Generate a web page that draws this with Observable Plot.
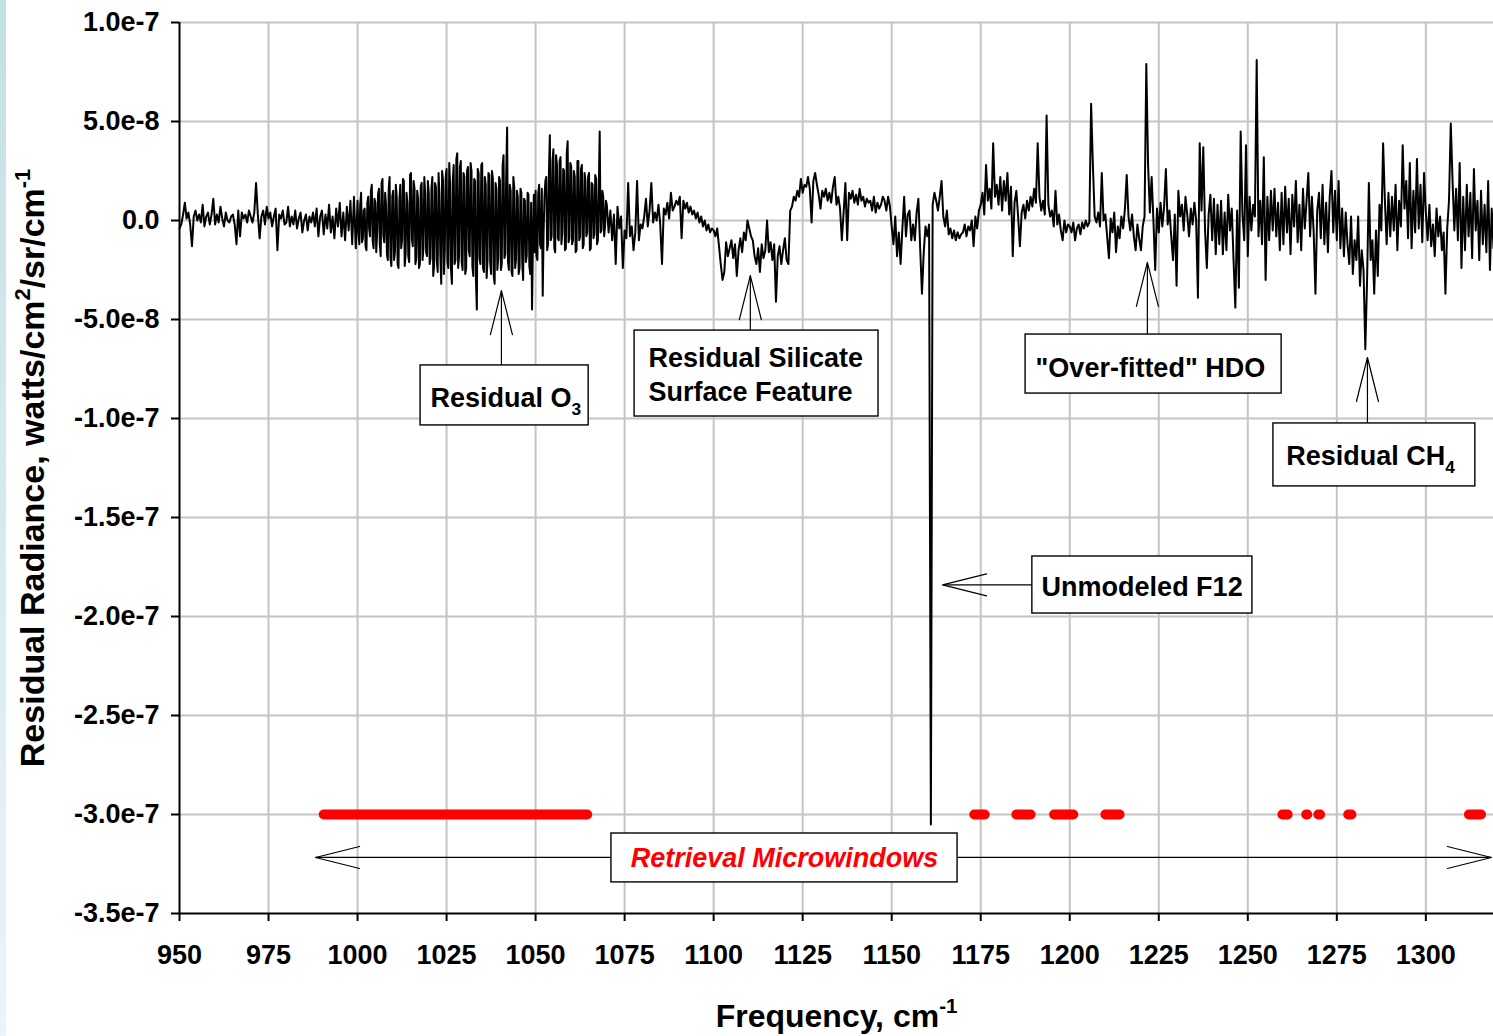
<!DOCTYPE html>
<html><head><meta charset="utf-8">
<script src="https://cdn.jsdelivr.net/npm/d3@7"></script>
<script src="https://cdn.jsdelivr.net/npm/@observablehq/plot@0.6"></script>
<style>
html,body{margin:0;padding:0;background:#fff;}
#chart{position:relative;width:1493px;height:1036px;overflow:hidden;}
#strip{position:absolute;left:0;top:0;width:6px;height:1036px;background:linear-gradient(#c3e0e6,#eaf5f7);}
</style></head><body>
<div id="chart"></div>
<script>
// ---- Data --------------------------------------------------------------
// Residual radiance in units of 1e-9 watts/cm²/sr/cm⁻¹. Each row covers 10 cm⁻¹
// starting at specStart + row*10; its values are evenly spaced across the row
// (20 values = 0.5 cm⁻¹ step, 40 values = 0.25 cm⁻¹ step in the dense O3 band).
const specStart = 950, rowSpan = 10;
const residualRows = [
  [-4,-2,3,9,1,4,-2,-13,2,5,0,3,-1,8,-3,2,4,-2,3,11],            // 950
  [-2,3,-1,7,1,-3,4,0,-1,2,3,-2,-12,5,-8,4,1,3,-1,5],            // 960
  [2,-1,4,19,3,-9,2,5,-2,7,1,4,-3,2,6,-15,3,1,5,-2],             // 970
  [-1,7,-3,2,-2,5,-4,1,4,-6,0,3,-5,2,-1,4,-3,6,-8,2],            // 980
  [5,-7,3,-4,8,-6,2,-9,6,-3,9,-8,4,-10,7,-5,10,-12,12,-14],      // 990
  [10,-6,-12,8,14,-11,-9,5,6,-13,-15,9,12,-4,-8,15,18,-10,-14,11,9,-16,-6,13,16,-12,-18,19,21,-8,-11,14,8,-17,-20,16,22,-19,-23,12], // 1000
  [15,-20,-16,18,12,-22,-24,10,18,-14,-10,21,20,-23,-17,14,9,-18,-21,23,24,-9,-13,20,16,-22,-19,15,11,-24,-22,17,19,-20,-14,22,13,-16,-18,20], // 1010
  [14,-22,-19,16,22,-28,-23,19,17,-20,-26,24,13,-18,-32,25,20,-27,-15,22,26,-21,-24,29,18,-25,-32,20,28,-22,-20,31,34,-24,-18,27,30,-21,-25,24], // 1020
  [22,-27,-24,25,27,-15,-18,29,25,-23,-28,21,20,-30,-45,26,24,-19,-22,28,29,-24,-26,22,18,-29,-20,24,23,-21,-27,25,21,-28,-32,19,16,-25,-19,22], // 1030
  [20,-25,-22,28,33,-19,-17,24,47,-21,-25,18,15,-26,-28,22,17,-24,-20,15,12,-27,-24,16,14,-22,-30,11,10,-21,-18,14,13,-23,-27,9,-45,-10,13,-16], // 1040
  [15,-18,-20,14,18,-12,-14,16,-38,-6,12,20,22,-15,-12,25,43,-10,-8,30,36,-14,-16,33,28,-9,-10,30,32,-12,-6,26,25,-15,-14,34,40,-11,-9,29], // 1050
  [27,-12,-10,25,22,-16,-15,30,30,-10,-8,26,28,-14,-12,24,20,-8,-6,22,24,-15,-14,19,18,-9,-7,23,21,-12,-10,17,45,-6,-5,15,12,-8,-3,10], // 1060
  [8,-6,5,-10,3,-22,7,-4,2,-24,-5,-9,19,-8,-3,-15,-6,20,-10,-2],         // 1070
  [-4,2,11,-3,5,19,-1,4,0,8,-2,-22,6,3,9,1,14,5,7,10],                   // 1080
  [8,12,-9,10,6,9,4,7,3,5,1,4,-1,2,-3,0,-5,-2,-6,-4],                    // 1090
  [-5,-8,-4,-13,-22,-30,-26,-11,-18,-14,-10,-19,-12,-28,-15,-9,-16,-6,-10,0], // 1100
  [-4,-8,-10,-18,-22,-14,-26,-12,-19,-15,0,-16,-11,-20,-12,-41,-18,-13,-22,-15], // 1110
  [-9,-20,-22,5,7,12,10,15,12,21,14,18,17,22,16,-1,20,24,18,13],         // 1120
  [6,15,12,16,10,14,9,17,22,8,12,6,-10,4,19,-10,14,11,15,9],             // 1130
  [13,8,16,10,12,7,11,9,10,5,12,4,9,6,8,12,10,5,12,7],                   // 1140
  [-3,-12,2,-18,-6,-22,-4,12,-8,3,5,-10,-2,-10,4,11,-14,-37,-16,-3],     // 1150
  [-8,-2,-305,8,14,10,5,12,20,2,-3,5,-7,-4,-9,-5,-10,-6,-9,-7],          // 1160
  [-6,-2,-8,-3,-5,0,-13,2,-4,5,8,14,3,28,10,16,6,39,12,18],              // 1170
  [8,22,5,20,10,24,3,17,-18,9,15,2,-13,4,8,1,10,5,12,7],                 // 1180
  [16,9,39,12,5,10,3,53,8,2,5,-3,15,-2,3,-5,-10,0,-6,-2],                // 1190
  [-3,-6,-1,-10,-4,-2,-7,-1,-4,0,-3,-1,59,28,2,-1,4,-3,24,0],            // 1200
  [3,-8,-19,1,-6,4,-16,-3,-9,2,-4,6,23,2,-5,3,-8,-15,-2,-9],             // 1210
  [-15,-3,2,79,28,4,22,0,-25,6,-6,9,-3,7,26,-2,5,-8,-20,3],              // 1220
  [-33,15,2,8,-5,12,3,-8,6,-2,9,0,-39,39,5,37,-5,-24,3,13],              // 1230
  [-10,11,-17,8,-12,10,-17,4,-15,13,-5,6,-20,-44,5,-34,45,3,-10,38],     // 1240
  [-18,12,-5,8,2,81,-8,10,-12,32,-30,12,-10,15,-5,16,-8,9,-15,14],       // 1250
  [-12,17,-6,11,-17,13,-3,20,-11,8,-15,16,-4,10,24,-8,12,-6,-37,5],      // 1260
  [14,-9,18,-12,9,-16,12,25,-6,15,-10,20,-14,6,-18,4,-12,-22,2,-27],     // 1270
  [-10,-20,2,-33,-15,-25,-65,-30,19,-20,-10,-37,-5,-28,8,-5,39,10,-12,14], // 1280
  [-8,12,-5,18,-15,10,-3,38,6,20,-9,29,-14,15,-6,31,-4,18,-11,24],       // 1290
  [4,-10,8,-13,-2,-18,6,-8,2,-15,-6,-37,-4,10,49,20,-5,16,-10,29],       // 1300
  [-24,12,-15,18,-8,14,-19,26,-5,10,-20,15,-12,8,-16,20,-25,6,-14,3]     // 1310
];

// Retrieval microwindows (cm⁻¹), drawn at -3.0e-7
const microwindowLevel = -300;
const microwindows = [
  [990.5,1064.5],[1173.2,1176.1],[1185,1189],[1195.6,1201],[1210,1214],
  [1259.7,1261.2],[1266.4,1266.7],[1269.8,1270.3],[1278.2,1279.1],[1312.1,1315.5]
];

const xTicks = [950,975,1000,1025,1050,1075,1100,1125,1150,1175,1200,1225,1250,1275,1300];
const yTicks = [100,50,0,-50,-100,-150,-200,-250,-300,-350];

const xLabel = "Frequency, cm^{-1}";
const yLabel = "Residual Radiance, watts/cm^{2}/sr/cm^{-1}";

// Annotation boxes (data coordinates)
const notes = [
  {text: "Residual O_{3}", x1: 1017.7, x2: 1064.9, y1: -73.2, y2: -103.5, tx: 1020.5, ty: -88.6},
  {text: "Residual Silicate\nSurface Feature", x1: 1077.8, x2: 1146.3, y1: -55.6, y2: -99, tx: 1081.7, ty: -77.2},
  {text: "\"Over-fitted\" HDO", x1: 1187.6, x2: 1259.5, y1: -57.6, y2: -87.4, tx: 1190.4, ty: -73.7},
  {text: "Residual CH_{4}", x1: 1257.2, x2: 1313.9, y1: -102.5, y2: -134.3, tx: 1260.8, ty: -117.9},
  {text: "Unmodeled F12", x1: 1189.5, x2: 1251.3, y1: -169.7, y2: -198.5, tx: 1192.1, ty: -184}
];
const mwNote = [{text: "Retrieval Microwindows", x1: 1071.3, x2: 1168.5, y1: -309.6, y2: -334.3, tx: 1119.9, ty: -322.2}];

// Arrows: tail (x1,y1) -> tip (x2,y2)
const arrows = [
  {x1: 1040.4, y1: -73.2, x2: 1040.4, y2: -35.4},
  {x1: 1110.3, y1: -55.6, x2: 1110.3, y2: -27.8},
  {x1: 1221.8, y1: -57.6, x2: 1221.8, y2: -21.2},
  {x1: 1283.6, y1: -102.5, x2: 1283.6, y2: -69.2},
  {x1: 1189.5, y1: -184, x2: 1164.3, y2: -184},
  {x1: 1071.3, y1: -321.7, x2: 988.2, y2: -321.7},
  {x1: 1168.5, y1: -321.7, x2: 1318.4, y2: -321.7}
];

// ---- Build -------------------------------------------------------------
const spectrum = residualRows.flatMap((row, r) =>
  row.map((v, j) => ({freq: specStart + r * rowSpan + j * rowSpan / row.length, value: v})))
  .filter(d => d.freq <= 1319);

const fmtY = d => d === 0 ? "0.0" : d3.format(".1e")(d * 1e-9).replace("\u2212", "-");
const fmtX = d => String(d);

const vee = {
  draw(context, l) {
    const w = l * 0.25;
    context.moveTo(-w, -l);
    context.lineTo(0, 0);
    context.lineTo(w, -l);
  }
};
const headRotate = a => a.x1 === a.x2 ? (a.y2 > a.y1 ? 180 : 0) : (a.x2 < a.x1 ? 90 : 270);

const font = "'Liberation Sans', Arial, Helvetica, sans-serif";

const chart = Plot.plot({
  width: 1493, height: 1036,
  marginLeft: 179, marginRight: 0, marginTop: 22, marginBottom: 123,
  x: {domain: [950, 1319]},
  y: {domain: [-350, 100]},
  style: {fontFamily: font, background: "white", color: "black", overflow: "visible"},
  marks: [
    Plot.gridX(xTicks.slice(1), {stroke: "#c4c4c4", strokeOpacity: 1, strokeWidth: 2}),
    Plot.gridY(yTicks.slice(0, -1), {stroke: "#c4c4c4", strokeOpacity: 1, strokeWidth: 2}),
    Plot.line(spectrum, {x: "freq", y: "value", stroke: "black", strokeWidth: 2, strokeLinejoin: "round"}),
    Plot.link(microwindows, {x1: d => d[0], x2: d => d[1], y1: () => microwindowLevel, y2: () => microwindowLevel,
      stroke: "#ff0000", strokeWidth: 10, strokeLinecap: "round"}),
    Plot.link(arrows, {x1: "x1", y1: "y1", x2: "x2", y2: "y2", stroke: "black", strokeWidth: 1.2}),
    Plot.vector(arrows, {x: "x2", y: "y2", rotate: headRotate, length: 44, shape: vee, anchor: "start",
      stroke: "black", strokeWidth: 1.2}),
    Plot.rect(notes.concat(mwNote), {x1: "x1", x2: "x2", y1: "y1", y2: "y2", fill: "white", stroke: "black", strokeWidth: 1.4}),
    Plot.text(notes, {x: "tx", y: "ty", text: "text", textAnchor: "start", lineAnchor: "middle",
      fontSize: 27, fontWeight: "bold", fill: "black", lineHeight: 1.27}),
    Plot.text(mwNote, {x: "tx", y: "ty", text: "text", textAnchor: "middle", lineAnchor: "middle",
      fontSize: 27, fontWeight: "bold", fontStyle: "italic", fill: "#ff0000"}),
    Plot.ruleX([950], {stroke: "black", strokeWidth: 2}),
    Plot.ruleY([-350], {stroke: "black", strokeWidth: 2}),
    Plot.axisX({ticks: xTicks, tickFormat: fmtX, tickSize: 8, tickPadding: 23, fontSize: 27, fontWeight: "bold",
      label: null, strokeWidth: 2}),
    Plot.axisY({ticks: yTicks, tickFormat: fmtY, tickSize: 8, tickPadding: 12, fontSize: 27,
      fontWeight: "bold", label: null, strokeWidth: 2}),
    Plot.text([yLabel], {text: d => d, frameAnchor: "left", dx: -146, rotate: -90, textAnchor: "middle",
      lineAnchor: "middle", fontSize: 34, fontWeight: "bold", fill: "black"}),
    Plot.text([xLabel], {text: d => d, frameAnchor: "bottom", dy: 103, textAnchor: "middle", lineAnchor: "middle",
      fontSize: 32, fontWeight: "bold", fill: "black"})
  ]
});

const holder = document.getElementById("chart");
holder.appendChild(chart);
const strip = document.createElement("div");
strip.id = "strip";
holder.appendChild(strip);

// Convert ^{..} and _{..} markup into super/subscript tspans
function richText(svg) {
  const NS = "http://www.w3.org/2000/svg";
  svg.querySelectorAll("text, tspan").forEach(node => {
    if (node.children.length) return;
    const s = node.textContent;
    if (!/[_^]\{/.test(s)) return;
    const fs = parseFloat(getComputedStyle(node).fontSize);
    node.textContent = "";
    let shift = 0;
    const add = (str, off, small) => {
      const t = document.createElementNS(NS, "tspan");
      t.textContent = str;
      t.setAttribute("dy", (off - shift) + "px");
      shift = off;
      if (small) t.setAttribute("font-size", (fs * 0.64) + "px");
      node.appendChild(t);
    };
    const re = /([_^])\{([^}]*)\}/g;
    let last = 0, m;
    while ((m = re.exec(s))) {
      if (m.index > last) add(s.slice(last, m.index), 0, false);
      add(m[2], m[1] === "^" ? -0.42 * fs : 0.3 * fs, true);
      last = re.lastIndex;
    }
    if (last < s.length) add(s.slice(last), 0, false);
  });
}
richText(chart);
</script>
</body></html>
